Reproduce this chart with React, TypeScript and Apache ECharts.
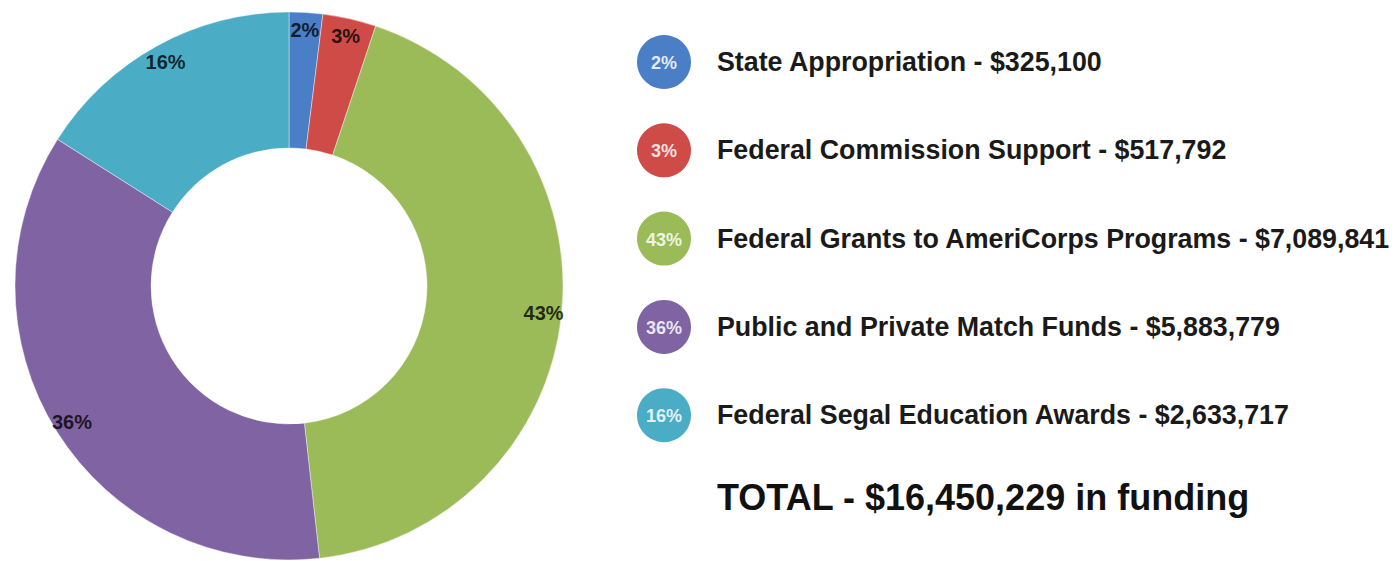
import React, { useEffect, useRef } from "react";
import * as echarts from "echarts";

const categories = [
  "State Appropriation",
  "Federal Commission Support",
  "Federal Grants to AmeriCorps Programs",
  "Public and Private Match Funds",
  "Federal Segal Education Awards",
];
const amounts = [325100, 517792, 7089841, 5883779, 2633717];
const colors = ["#4a7ec6", "#cf4b48", "#9bbb59", "#8063a2", "#4bacc6"];
const totalLabel = "TOTAL - $16,450,229 in funding";

const FONT = "'Liberation Sans', Arial, Helvetica, sans-serif";

export default function App() {
  const ref = useRef<HTMLDivElement>(null);
  useEffect(() => {
    document.body.style.margin = "0";
    const chart = echarts.init(ref.current!, null, { renderer: "svg" });
    const total = amounts.reduce((a, b) => a + b, 0);
    const pct = (v: number) => Math.round((v / total) * 100) + "%";
    const data = categories.map((c, i) => ({
      name: c,
      value: amounts[i],
      itemStyle: { color: colors[i] },
    }));
    const legendX = 664;
    const legendY0 = 62;
    const legendGap = 88.3;
    const graphics: any[] = [];
    categories.forEach((c, i) => {
      const y = legendY0 + legendGap * i;
      graphics.push({
        type: "circle",
        shape: { cx: legendX, cy: y, r: 27 },
        style: { fill: colors[i] },
      });
      graphics.push({
        type: "text",
        x: legendX,
        y: y + 1,
        style: {
          text: pct(amounts[i]),
          fill: "rgba(255,255,255,0.85)",
          font: `bold 18px ${FONT}`,
          textAlign: "center",
          textVerticalAlign: "middle",
        },
      });
      graphics.push({
        type: "text",
        x: 717,
        y: y,
        style: {
          text: `${c} - $${amounts[i].toLocaleString("en-US")}`,
          fill: "#1a1a1a",
          font: `bold 26.8px ${FONT}`,
          textAlign: "left",
          textVerticalAlign: "middle",
        },
      });
    });
    graphics.push({
      type: "text",
      x: 717,
      y: 497,
      style: {
        text: totalLabel,
        fill: "#111",
        font: `bold 36px ${FONT}`,
        textAlign: "left",
        textVerticalAlign: "middle",
      },
    });

    chart.setOption({
      animation: false,
      backgroundColor: "#fff",
      graphic: graphics,
      series: [
        {
          type: "pie",
          center: [289, 286],
          radius: [138, 274],
          startAngle: 90,
          clockwise: true,
          silent: true,
          label: { show: false },
          labelLine: { show: false },
          itemStyle: { borderColor: "rgba(255,255,255,0.5)", borderWidth: 0.8 },
          data,
        },
        {
          type: "pie",
          center: [289, 286],
          radius: [236, 270],
          startAngle: 90,
          clockwise: true,
          silent: true,
          itemStyle: { color: "rgba(0,0,0,0)" },
          labelLine: { show: false },
          label: {
            show: true,
            position: "inside",
            formatter: (p: any) => pct(p.value),
            color: "rgba(0,0,0,0.78)",
            fontFamily: FONT,
            fontWeight: "bold",
            fontSize: 20,
          },
          data: categories.map((c, i) => ({ name: c, value: amounts[i] })),
        },
      ],
    });
    return () => chart.dispose();
  }, []);
  return <div ref={ref} style={{ width: 1396, height: 561 }} />;
}
